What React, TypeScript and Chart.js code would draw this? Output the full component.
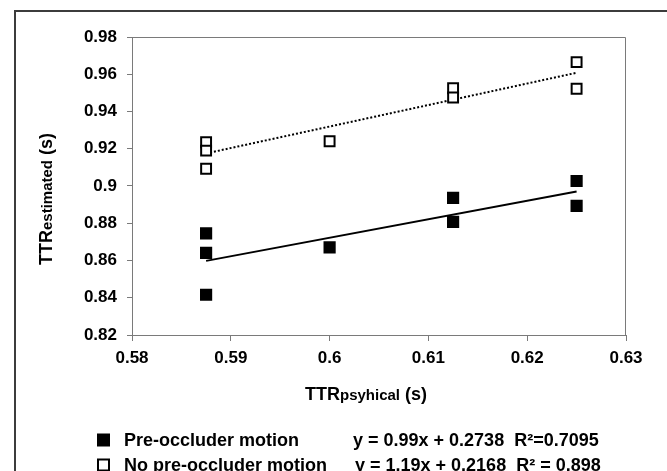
import React, { useEffect, useRef } from "react";
import { Chart, registerables } from "chart.js";

Chart.register(...registerables);

// ---- data ----
const preX = [0.5875, 0.5875, 0.5875, 0.6, 0.6125, 0.6125, 0.625, 0.625];
const preY = [0.8746, 0.8641, 0.8416, 0.867, 0.8936, 0.8807, 0.9027, 0.8893];
const noX = [0.5875, 0.5875, 0.5875, 0.6, 0.6125, 0.6125, 0.625, 0.625];
const noY = [0.9235, 0.919, 0.9093, 0.924, 0.9525, 0.9475, 0.9665, 0.9522];
const trendX = [0.5875, 0.625];
const trendPreY = [0.8598, 0.8971];
const trendNoY = [0.9175, 0.9608];
const xTicks = [0.58, 0.59, 0.6, 0.61, 0.62, 0.63];
const yTicks = [0.82, 0.84, 0.86, 0.88, 0.9, 0.92, 0.94, 0.96, 0.98];
const seriesNames = ["Pre-occluder motion", "No pre-occluder motion"];
const equations = ["y = 0.99x + 0.2738  R\u00B2=0.7095", "y = 1.19x + 0.2168  R\u00B2 = 0.898"];
const xTitleParts = ["TTR", "psyhical", " (s)"];
const yTitleParts = ["TTR", "estimated", " (s)"];

const FONT = "'Liberation Sans', Arial, Helvetica, sans-serif";

const toPts = (xs: number[], ys: number[]) => xs.map((x, i) => ({ x, y: ys[i] }));
const fmt = (v: number) => String(Number(v.toFixed(2)));

function drawRuns(ctx: CanvasRenderingContext2D, parts: string[], sizes: number[]) {
  // returns total width; assumes baseline alphabetic
  let w = 0;
  parts.forEach((p, i) => {
    ctx.font = `bold ${sizes[i]}px ${FONT}`;
    w += ctx.measureText(p).width;
  });
  return w;
}

const decorPlugin = {
  id: "decor",
  beforeDraw(chart: any) {
    const ctx = chart.ctx as CanvasRenderingContext2D;
    ctx.save();
    ctx.fillStyle = "#fff";
    ctx.fillRect(0, 0, chart.width, chart.height);
    // outer frame (cut at right and bottom)
    ctx.strokeStyle = "#3c3c3c";
    ctx.lineWidth = 2;
    ctx.beginPath();
    ctx.moveTo(15, chart.height + 2);
    ctx.lineTo(15, 11);
    ctx.lineTo(chart.width + 2, 11);
    ctx.stroke();
    ctx.restore();
  },
  afterDraw(chart: any) {
    const ctx = chart.ctx as CanvasRenderingContext2D;
    const a = chart.chartArea;
    ctx.save();
    // top and right plot border
    ctx.strokeStyle = "#7a7a7a";
    ctx.lineWidth = 1;
    ctx.beginPath();
    ctx.moveTo(a.left, a.top + 0.5);
    ctx.lineTo(a.right - 0.5, a.top + 0.5);
    ctx.lineTo(a.right - 0.5, a.bottom);
    ctx.stroke();

    ctx.fillStyle = "#000";
    ctx.textBaseline = "alphabetic";
    ctx.textAlign = "left";

    // x title
    const sizes = [18, 15, 18];
    const xw = drawRuns(ctx, xTitleParts, sizes);
    let cx = 366 - xw / 2;
    const xBase = 400;
    xTitleParts.forEach((p, i) => {
      ctx.font = `bold ${sizes[i]}px ${FONT}`;
      ctx.fillText(p, cx, xBase);
      cx += ctx.measureText(p).width;
    });

    // y title (rotated)
    const yw = drawRuns(ctx, yTitleParts, sizes);
    ctx.save();
    ctx.translate(52, 199);
    ctx.rotate(-Math.PI / 2);
    let cy = -yw / 2;
    yTitleParts.forEach((p, i) => {
      ctx.font = `bold ${sizes[i]}px ${FONT}`;
      ctx.fillText(p, cy, 0);
      cy += ctx.measureText(p).width;
    });
    ctx.restore();

    // legend
    const rows = [440, 465];
    ctx.font = `bold 18px ${FONT}`;
    ctx.textBaseline = "middle";
    rows.forEach((yc, i) => {
      if (i === 0) {
        ctx.fillStyle = "#000";
        ctx.fillRect(97, yc - 6.5, 13, 13);
      } else {
        ctx.strokeStyle = "#000";
        ctx.lineWidth = 2;
        ctx.strokeRect(98, yc - 5.5, 11, 11);
      }
      ctx.fillStyle = "#000";
      ctx.fillText(seriesNames[i], 124, yc + 1);
      ctx.fillText(equations[i], i === 0 ? 353 : 355, yc + 1);
    });
    ctx.restore();
  },
};

export default function App() {
  const ref = useRef<HTMLCanvasElement | null>(null);
  useEffect(() => {
    if (!ref.current) return;
    const tickFont = { family: FONT, size: 17, weight: "bold" as const };
    const chart = new Chart(ref.current, {
      type: "scatter",
      data: {
        datasets: [
          {
            label: seriesNames[0],
            data: toPts(preX, preY),
            pointStyle: "rect",
            pointRadius: 7.2,
            backgroundColor: "#000",
            borderColor: "#000",
            borderWidth: 2,
          },
          {
            label: seriesNames[1],
            data: toPts(noX, noY),
            pointStyle: "rect",
            pointRadius: 7,
            backgroundColor: "#fff",
            borderColor: "#000",
            borderWidth: 2,
          },
          {
            type: "line",
            label: "trend pre",
            data: toPts(trendX, trendPreY),
            showLine: true,
            pointRadius: 0,
            borderColor: "#000",
            borderWidth: 2,
            fill: false,
          },
          {
            type: "line",
            label: "trend no",
            data: toPts(trendX, trendNoY),
            showLine: true,
            pointRadius: 0,
            borderColor: "#000",
            borderWidth: 2,
            borderDash: [2, 2],
            fill: false,
          },
        ] as any,
      },
      options: {
        animation: false,
        responsive: false,
        devicePixelRatio: 1,
        layout: { padding: { left: 0, right: 41, top: 37, bottom: 96 } },
        plugins: { legend: { display: false }, tooltip: { enabled: false } },
        scales: {
          x: {
            type: "linear",
            min: 0.58,
            max: 0.63,
            afterBuildTicks: (s: any) => {
              s.ticks = xTicks.map((v) => ({ value: v }));
            },
            afterFit: (s: any) => {
              s.height = 40;
            },
            ticks: { font: tickFont, color: "#000", padding: 7, callback: (v: any) => fmt(Number(v)), maxRotation: 0, autoSkip: false },
            grid: { display: true, drawOnChartArea: false, drawTicks: true, tickLength: 6, color: "#7a7a7a" },
            border: { display: true, color: "#7a7a7a", width: 1 },
          },
          y: {
            type: "linear",
            min: 0.82,
            max: 0.98,
            afterBuildTicks: (s: any) => {
              s.ticks = yTicks.map((v) => ({ value: v }));
            },
            afterFit: (s: any) => {
              s.width = 132;
            },
            ticks: { font: tickFont, color: "#000", padding: 10, callback: (v: any) => fmt(Number(v)), autoSkip: false },
            grid: { display: true, drawOnChartArea: false, drawTicks: true, tickLength: 5, color: "#7a7a7a" },
            border: { display: true, color: "#7a7a7a", width: 1 },
          },
        },
      } as any,
      plugins: [decorPlugin],
    });
    return () => chart.destroy();
  }, []);
  return (
    <div style={{ position: "fixed", left: 0, top: 0, width: 667, height: 471, background: "#fff" }}>
      <canvas ref={ref} width={667} height={471} style={{ width: 667, height: 471, display: "block" }} />
    </div>
  );
}
